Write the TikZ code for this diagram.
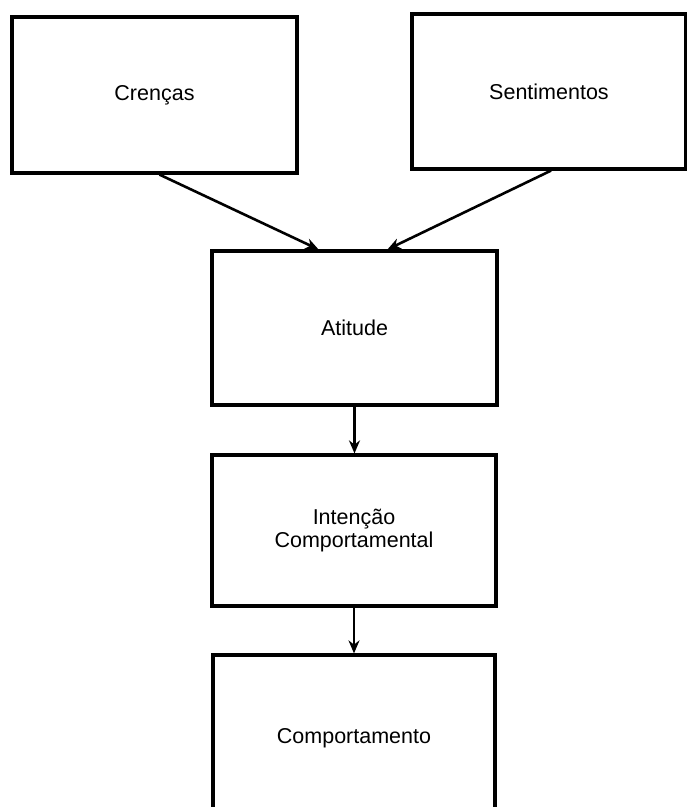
\documentclass[tikz,border=0pt]{standalone}
\usepackage{fontspec}
\setmainfont{Liberation Sans}
\usetikzlibrary{arrows.meta}

\begin{document}
\begin{tikzpicture}[x=1pt,y=-1pt,
    box/.style={shape=rectangle,draw=black,line width=3.2pt,align=center,
        font=\fontsize{21.5}{23}\selectfont},
    link/.style={line width=2.6pt,-{Stealth[length=13pt,width=11pt]}}]
                \useasboundingbox (0,0) rectangle (687,807);

                \node[box, minimum width=285pt, minimum height=156pt] (crencas) at (154.5,95) {Crenças};
                \node[box, minimum width=274pt, minimum height=155pt] (sentimentos) at (549,91.5) {Sentimentos};
                \node[box, minimum width=285pt, minimum height=154pt] (atitude) at (354.5,328) {Atitude};
                \node[box, minimum width=284pt, minimum height=151pt] (intencao) at (354,530.5) {Intenção\\Comportamental};
                \node[box, minimum width=282pt, minimum height=166pt] (comportamento) at (354,738) {Comportamento};

                \draw[link] ([xshift=5pt]crencas.south) -- ([xshift=-36pt]atitude.north);
                \draw[link] ([xshift=2pt]sentimentos.south) -- ([xshift=33pt]atitude.north);

                \draw[link] (atitude.south) -- (atitude.south |- intencao.north);
                \draw[link] (intencao.south) -- (intencao.south |- comportamento.north);

            \end{tikzpicture}
\end{document}
